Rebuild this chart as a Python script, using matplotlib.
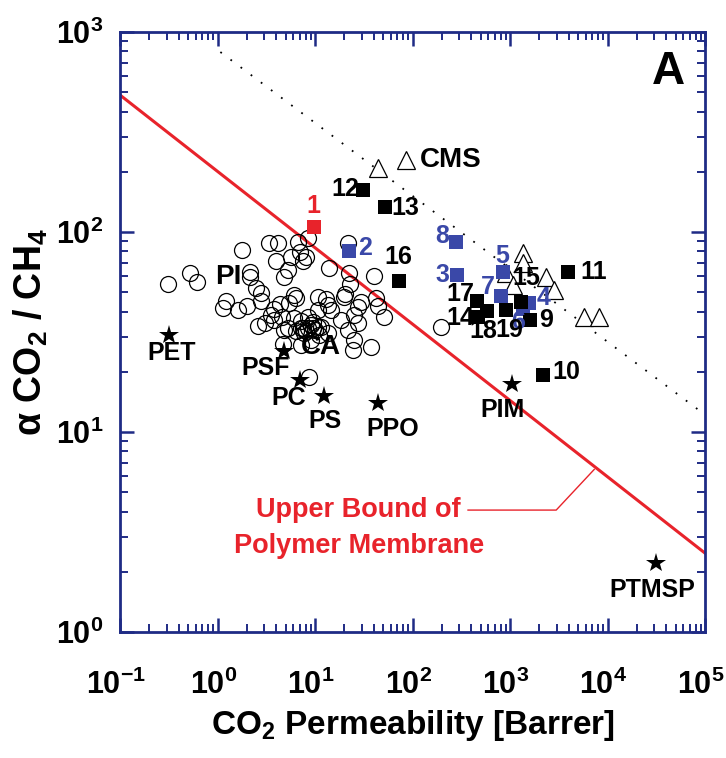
import numpy as np
import matplotlib.pyplot as plt
from matplotlib import rc
from matplotlib.ticker import LogLocator
from matplotlib.transforms import ScaledTranslation

rc('font', family='Liberation Sans', weight='bold', size=15)
rc('axes', labelweight='bold')
rc('mathtext', fontset='custom', rm='Liberation Sans:bold', it='Liberation Sans:bold:italic',
   bf='Liberation Sans:bold', default='rm')

navy = '#1f2b85'
red = '#e8232b'
blue = '#3a48a8'

# polymer membranes (open circles): CO2 permeability [Barrer], CO2/CH4 selectivity
poly_P = [0.313, 0.528, 0.623, 1.77, 3.34, 2.18, 2.18, 3.95, 5.24, 6.64, 8.41, 6.96, 8.02, 5.62,
          7.48, 4.14, 2.46, 4.77, 6.04, 2.77, 1.21, 1.13, 1.61, 1.99, 3.76, 4.34, 5.37, 3.51,
          2.58, 3.04, 3.76, 4.55, 4.77, 6.04, 7.13, 8.41, 10.7, 14.5, 10.7, 13.5, 12.9, 13.8,
          21.7, 22.2, 22.7, 40.1, 20.2, 29.5, 42.1, 44.1, 50.8, 27.5, 25.0, 18.4, 21.7, 27.5,
          25.0, 37.4, 24.4, 13.5, 11.4, 7.13, 8.41, 9.03, 10.7, 6.33, 5.24, 4.66, 7.13, 9.03,
          8.61, 196, 2.77, 6.33, 19.7, 9.47, 7.66, 10.9, 7.5, 8.0, 9.5, 10.0]
poly_a = [55.0, 62.4, 56.2, 81.3, 88.1, 63.1, 59.6, 71.6, 64.6, 89.1, 93.3, 79.4, 75.0, 75.0,
          71.6, 88.1, 52.5, 59.6, 48.4, 45.2, 45.2, 41.7, 40.7, 42.7, 41.2, 43.7, 44.2, 38.5,
          33.9, 35.1, 36.3, 37.6, 32.4, 37.2, 35.9, 37.6, 40.7, 40.7, 47.3, 43.2, 46.2, 66.1,
          88.1, 62.4, 55.0, 60.3, 49.0, 44.7, 46.8, 42.7, 37.6, 42.2, 38.5, 36.3, 32.4, 35.1,
          28.8, 26.6, 25.7, 31.3, 33.5, 33.1, 33.1, 34.3, 33.5, 32.0, 33.1, 27.5, 27.2, 28.8,
          18.8, 33.5, 49.5, 46.8, 47.3, 35.5, 31.3, 30.5, 33.0, 32.0, 33.0, 32.5]

# commercial polymers (stars)
star_names = ['PET', 'PSF', 'PC', 'PS', 'PPO', 'PIM', 'PTMSP']
star_P = [0.321, 4.77, 6.96, 12.3, 44.1, 1051, 31800]
star_a = [30.5, 25.4, 18.2, 15.1, 14.0, 17.4, 2.21]

# carbon molecular sieves (open triangles)
cms_P = [44.1, 1364, 1364, 912, 2350, 1076, 2838, 5780, 8240]
cms_a = [209, 78.5, 70.0, 62.4, 59.6, 54.3, 51.3, 37.6, 37.6]

# numbered membranes (squares)
sq_ids = ['1', '2', '3', '4', '5', '6', '7', '8',
          '9', '10', '11', '12', '13', '14', '15', '16', '17', '18', '19']
sq_P = [9.7, 22.2, 286, 1571, 849, 1364, 811, 279,
        1610, 2188, 3955, 30.9, 52.0, 470, 1300, 72.5, 459, 582, 912]
sq_a = [106, 80.4, 61.0, 44.2, 63.1, 41.2, 47.9, 89.1,
        36.3, 19.3, 63.1, 162, 133, 37.6, 44.7, 56.9, 45.2, 40.3, 40.7]
sq_group = ['red', 'blue', 'blue', 'blue', 'blue', 'blue', 'blue', 'blue',
            'black', 'black', 'black', 'black', 'black', 'black', 'black', 'black', 'black', 'black', 'black']

# upper bound (1991) and dotted guide line
bound_P = [0.1, 1e5]
bound_a = [484, 2.48]
guide_P = [1.07, 1e5]
guide_a = [794, 12.2]
callout_P = [371, 2978, 7311]
callout_a = [4.07, 4.07, 6.5]

# label offsets in pixels (dx right, dy up)
px = 72 / 100
star_off = {'PET': (2, -18), 'PSF': (-18, -17), 'PC': (-11, -18), 'PS': (1, -25),
            'PPO': (15, -26), 'PIM': (-10, -26), 'PTMSP': (-4, -27)}
sq_off = {'1': (0, 21), '2': (16, 3), '3': (-15, 0), '4': (14, 5), '5': (-1, 16),
          '6': (-5, -13), '7': (-13, 9), '8': (-14, 6), '9': (16, 0), '10': (23, 3),
          '11': (25, 0), '12': (-17, 1), '13': (21, -1), '14': (-18, -1), '15': (5, 24),
          '16': (-1, 24), '17': (-17, 7), '18': (-4, -20), '19': (3, -20)}

fig = plt.figure(figsize=(7.26, 7.58), dpi=100)
ax = fig.add_axes([120 / 726, 1 - 632 / 758, 585 / 726, 600 / 758])
ax.set_xscale('log')
ax.set_yscale('log')
ax.set_xlim(1e-1, 1e5)
ax.set_ylim(1e0, 1e3)
ax.xaxis.set_major_locator(LogLocator(base=10, numticks=12))
ax.yaxis.set_major_locator(LogLocator(base=10, numticks=12))

ax.plot(bound_P, bound_a, c=red, lw=2.2, zorder=2)
ax.plot(guide_P, guide_a, c='k', lw=1.3, ls=(0, (1, 6)), zorder=2)
ax.plot(callout_P, callout_a, c=red, lw=1.0, zorder=2)

ax.plot(poly_P, poly_a, 'o', ms=11.5, mfc='none', mec='k', mew=0.9, zorder=3)
ax.plot(cms_P, cms_a, '^', ms=13, mfc='white', mec='k', mew=0.9, zorder=4)
ax.plot(star_P, star_a, '*', ms=15, c='k', mew=0, zorder=5)

colors = {'red': red, 'blue': blue, 'black': 'k'}
for i in range(len(sq_ids)):
    c = colors[sq_group[i]]
    ax.plot(sq_P[i], sq_a[i], 's', ms=10, c=c, mew=0, zorder=5)
    dx, dy = sq_off[sq_ids[i]]
    ax.annotate(sq_ids[i], (sq_P[i], sq_a[i]), xytext=(dx * px, dy * px), textcoords='offset points',
                ha='center', va='center', color=c, fontsize=18, zorder=6)

for i in range(len(star_names)):
    dx, dy = star_off[star_names[i]]
    ax.annotate(star_names[i], (star_P[i], star_a[i]), xytext=(dx * px, dy * px),
                textcoords='offset points', ha='center', va='center', fontsize=18)

ax.text(11.4, 26.6, 'CA', ha='center', va='center', fontsize=20)
ax.text(1.30, 59.6, 'PI', ha='center', va='center', fontsize=20)
ax.plot(85.5, 229, '^', ms=13, mfc='white', mec='k', mew=0.9)
ax.text(118, 229, 'CMS', ha='left', va='center', fontsize=20)
ax.text(0.937, 0.933, 'A', transform=ax.transAxes, ha='center', va='center', fontsize=33)
ax.text(28.1, 4.07, 'Upper Bound of', ha='center', va='center', color=red, fontsize=19.5)
ax.text(28.1, 2.69, 'Polymer Membrane', ha='center', va='center', color=red, fontsize=19.5)

for s in ax.spines.values():
    s.set_color(navy)
    s.set_linewidth(2)
ax.tick_params(which='both', direction='in', top=True, right=True, color=navy, labelsize=22)
ax.tick_params(which='major', length=10, width=1.8)
ax.tick_params(which='minor', length=6, width=1.4)
ax.tick_params(axis='x', which='major', pad=27)
ax.tick_params(axis='y', which='major', pad=12)

# nudge x tick labels slightly left so the last one stays inside the figure
shift = ScaledTranslation(-4 / 100, 0, fig.dpi_scale_trans)
for t in ax.xaxis.get_major_ticks():
    t.label1.set_transform(t.label1.get_transform() + shift)

ax.set_xlabel('CO$_2$ Permeability [Barrer]', fontsize=24)
ax.set_ylabel('\u03b1 CO$_2$ / CH$_4$', fontsize=27)
ax.xaxis.set_label_coords(0.5, -0.127)
ax.yaxis.set_label_coords(-0.12, 0.5)

plt.savefig('out.png', dpi=100)
